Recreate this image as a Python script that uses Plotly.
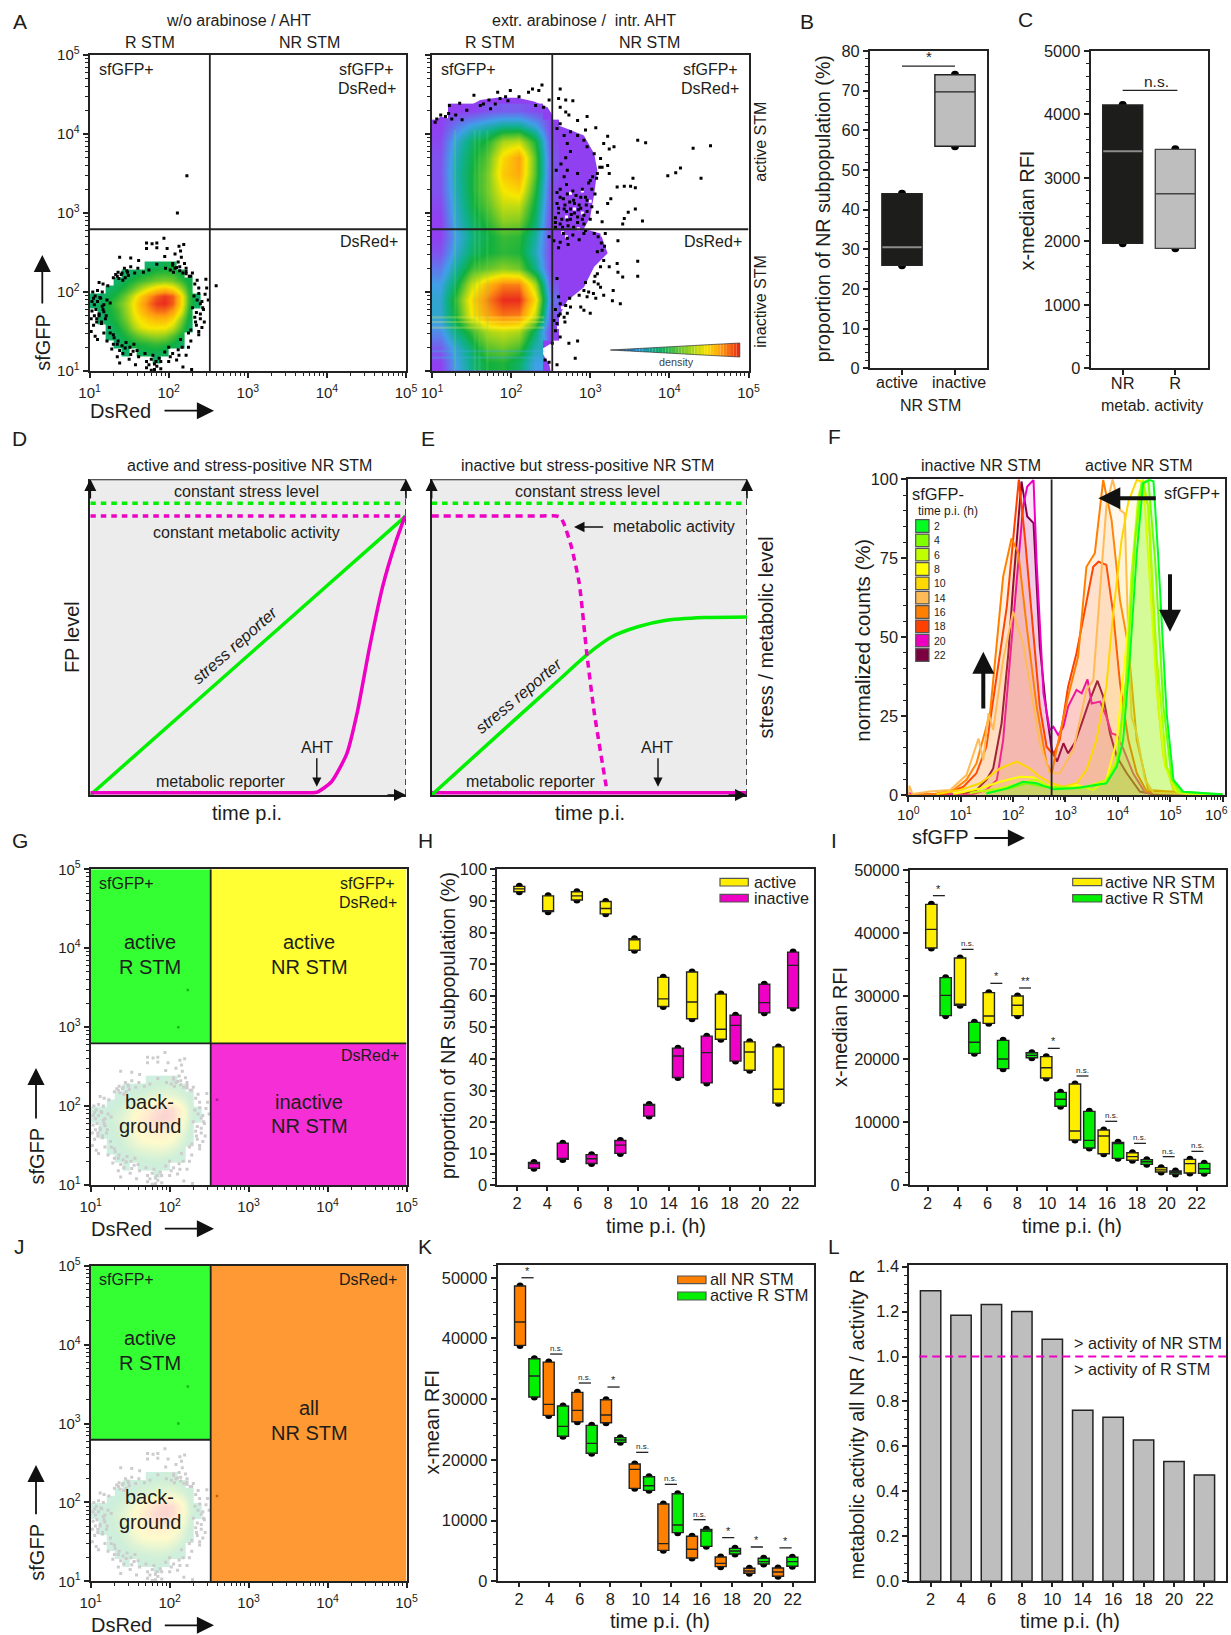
import numpy as np
import plotly.graph_objects as go
from plotly.colors import sample_colorscale

W, H = 1231, 1635
FONT = "Liberation Sans"
INK = "#222222"
TXT = "#1d1d1b"
YEL, MAG, GRN, ORG, GRY = "#ffee00", "#ee00c4", "#00f000", "#ff8000", "#bebebe"

# ---------------- DATA ----------------
TIME_LABELS = ["2", "4", "6", "8", "10", "14", "16", "18", "20", "22"]

# Panel B / C
B_Q1 = [26, 56]; B_MED = [30.5, 69.7]; B_Q3 = [44, 74]
C_Q1 = [1970, 1890]; C_MED = [3420, 2750]; C_Q3 = [4150, 3450]

# Panel H
H_A_Q1 = [92.9, 86.6, 90.3, 85.9, 74.4, 56.6, 52.7, 46.2, 36.4, 26.0]
H_A_MED = [93.8, 86.8, 91.6, 87.6, 77.8, 59.0, 58.0, 49.4, 42.2, 30.4]
H_A_Q3 = [94.6, 91.6, 92.9, 89.8, 78.0, 65.8, 67.5, 60.5, 45.4, 43.8]
H_I_Q1 = [5.4, 8.2, 6.9, 10.1, 21.9, 34.1, 32.4, 39.3, 54.6, 56.1]
H_I_MED = [7.0, 8.4, 8.4, 12.7, 25.4, 40.9, 42.0, 50.6, 57.8, 69.6]
H_I_Q3 = [7.2, 13.3, 9.7, 14.2, 25.6, 43.4, 47.2, 53.8, 63.6, 73.8]

# Panel I
I_Y_Q1 = [37620, 28520, 25660, 26880, 16980, 7140, 4970, 3920, 2060, 1900]
I_Y_MED = [40580, 28700, 26830, 28520, 18620, 8570, 7780, 4500, 2400, 3390]
I_Y_Q3 = [44550, 36030, 30530, 30000, 20370, 16030, 8730, 5130, 2750, 4070]
I_G_Q1 = [26880, 20900, 18470, 20210, 12490, 5870, 4230, 3280, 1750, 1850]
I_G_MED = [30100, 22650, 20000, 20580, 13600, 7090, 6560, 3700, 2010, 2590]
I_G_Q3 = [32910, 25820, 22960, 21000, 14710, 11690, 6770, 4020, 2220, 3440]
I_SIG_Y = [45930, 37400, 32010, 31270, 21690, 17300, 10110, 6610, 4500, 5340]
I_SIG_T = ["*", "n.s.", "*", "**", "*", "n.s.", "n.s.", "n.s.", "n.s.", "n.s."]

# Panel K
K_O_Q1 = [38860, 27330, 26290, 26120, 15310, 5100, 3840, 2410, 1320, 820]
K_O_MED = [42700, 29140, 28160, 27390, 18440, 6200, 5270, 2960, 1700, 1540]
K_O_Q3 = [48630, 36110, 31120, 29910, 19320, 12730, 7410, 4010, 2140, 2200]
K_G_Q1 = [30350, 23880, 21080, 22890, 14980, 8010, 5760, 4500, 2850, 2470]
K_G_MED = [33810, 25520, 22720, 23270, 15750, 9280, 8290, 4990, 3240, 3240]
K_G_Q3 = [36660, 28870, 25690, 23660, 17230, 14430, 8560, 5430, 3790, 3950]
K_SIG_Y = [50000, 37430, 32660, 32000, 21240, 15970, 10150, 7190, 5650, 5490]
K_SIG_T = ["*", "n.s.", "n.s.", "*", "n.s.", "n.s.", "n.s.", "*", "*", "*"]

# Panel L
L_VALUES = [1.293, 1.184, 1.231, 1.200, 1.077, 0.761, 0.730, 0.628, 0.533, 0.473]

# Panel D / E schematic curves
D_MAG_X = [0, 0.35, 0.6, 0.70, 0.719, 0.764, 0.813, 0.845, 0.885, 0.926, 0.966, 0.997]
D_MAG_Y = [0.007, 0.007, 0.007, 0.007, 0.009, 0.042, 0.132, 0.259, 0.470, 0.660, 0.797, 0.884]
E_GRN_X = [0, 0.25, 0.40, 0.492, 0.573, 0.654, 0.735, 0.864, 1]
E_GRN_Y = [0, 0.226, 0.361, 0.444, 0.502, 0.533, 0.552, 0.562, 0.564]
E_MAG_X = [0, 0.2, 0.35, 0.395, 0.408, 0.419, 0.443, 0.468, 0.492, 0.516, 0.557]
E_MAG_Y = [0.884, 0.884, 0.884, 0.884, 0.880, 0.861, 0.787, 0.671, 0.449, 0.259, 0.007]

# Panel F histograms: log10(sfGFP), normalized counts
F_22_X = [0, 1.05, 1.30, 1.49, 1.62, 1.78, 1.91, 2.0, 2.16, 2.27, 2.39, 2.51, 2.64, 2.74, 2.84, 2.96, 3.05, 3.18, 3.31, 3.44, 3.61, 3.72, 3.85, 3.98, 4.17, 4.42, 4.68, 6.0]
F_22_Y = [0, .3, 1.6, 4.8, 8.4, 22.7, 44.9, 66, 99.3, 88.2, 86.1, 47, 25.9, 14.3, 10.6, 16.4, 13.2, 16.6, 22.7, 29, 36.2, 31.2, 19.5, 12.1, 6.9, 1.1, .2, 0]
F_20_X = [0, .1, 1.2, 1.49, 1.69, 1.81, 1.94, 2.07, 2.19, 2.27, 2.39, 2.45, 2.58, 2.70, 2.77, 2.86, 2.96, 3.05, 3.21, 3.31, 3.42, 3.50, 3.66, 3.78, 3.88, 3.98, 4.10, 4.29, 4.52, 6.0]
F_20_Y = [.7, .1, .1, 1.6, 4.8, 17.4, 42.8, 68.1, 91.3, 97.7, 99.8, 73.4, 32.2, 20.6, 21.6, 19, 21.6, 28, 33.3, 32.2, 36.6, 29, 29.6, 24.8, 19.5, 19, 14.8, 6.9, .7, 0]
F_18_X = [0, .7, 1.05, 1.30, 1.49, 1.69, 1.88, 2.0, 2.11, 2.23, 2.39, 2.51, 2.64, 2.77, 2.89, 3.05, 3.21, 3.40, 3.53, 3.63, 3.78, 3.91, 4.04, 4.20, 4.36, 4.55, 6.0]
F_18_Y = [0, .3, 2.6, 6.9, 15.3, 38.5, 59.7, 80.8, 100, 80.8, 49.1, 27.9, 15.3, 12.7, 17.4, 34.3, 44.9, 61.8, 72.3, 73.9, 72.9, 57.6, 35.4, 17.4, 6.9, 1.1, 0]
F_16_X = [0, .5, .86, 1.11, 1.30, 1.56, 1.81, 1.97, 2.10, 2.26, 2.45, 2.64, 2.74, 2.84, 3.05, 3.24, 3.40, 3.56, 3.72, 3.88, 4.04, 4.20, 4.36, 4.58, 6.0]
F_16_Y = [0, .3, 1.6, 4.8, 10, 25.9, 69.2, 81.3, 76.6, 53.3, 28, 10, 6.9, 15.3, 31.2, 43.8, 72.3, 76.6, 99.8, 87.1, 61.8, 47, 17.4, 1.6, 0]
F_14_X = [0, .02, .08, .41, .80, 1.11, 1.34, 1.43, 1.53, 1.62, 1.81, 2.0, 2.19, 2.39, 2.51, 2.70, 2.89, 3.15, 3.40, 3.53, 3.66, 3.78, 3.90, 4.04, 4.13, 4.20, 4.26, 4.36, 4.52, 4.68, 6.0]
F_14_Y = [0, 3, .3, 1.1, 1.6, 6.3, 17.9, 11, 25.9, 20.6, 42.8, 58.1, 48.1, 28, 16.4, 6.9, 6.9, 14.3, 33.3, 36.4, 64.9, 91.3, 100, 90.3, 89.2, 49.1, 24.8, 19.5, 4.8, .7, 0]
F_10_X = [.54, .99, 1.37, 1.75, 2.07, 2.32, 2.51, 2.74, 2.96, 3.21, 3.40, 3.59, 3.78, 3.91, 4.07, 4.20, 4.36, 4.45, 4.58, 4.68, 4.77, 4.87, 5.06, 5.31, 6.0]
F_10_Y = [.3, 1.6, 3.7, 8.4, 10.6, 8.4, 5.8, 3.7, 2.6, 3.7, 7.9, 17.4, 34.3, 57.6, 80.8, 92.9, 99.8, 99.3, 91.3, 59.7, 28, 12.1, 1.6, .5, 0]
F_8_X = [.86, 1.37, 1.75, 2.13, 2.39, 2.64, 2.96, 3.21, 3.53, 3.78, 3.98, 4.17, 4.33, 4.48, 4.58, 4.74, 4.90, 5.12, 5.31, 6.0]
F_8_Y = [.3, 2.1, 4.2, 5.8, 5.6, 3.2, 2.1, 3.2, 1.6, 4.8, 17.4, 49.1, 80.8, 100, 75.5, 33.3, 9, 1.1, .5, 0]
F_6_X = [1.18, 1.75, 2.13, 2.45, 2.77, 3.40, 3.78, 3.98, 4.13, 4.26, 4.39, 4.48, 4.58, 4.74, 4.93, 5.15, 5.95]
F_6_Y = [.7, 2.1, 3.7, 4.8, 2.1, 2.6, 4.8, 11.1, 28, 70.2, 94.5, 99.8, 91.3, 43.8, 9, 1.1, .1]
F_4_X = [1.49, 1.94, 2.26, 2.58, 3.28, 3.78, 3.98, 4.17, 4.33, 4.45, 4.58, 4.71, 4.87, 5.03, 5.22, 6.0]
F_4_Y = [.7, 2.1, 3.7, 2.6, 2.1, 3.7, 10, 38.5, 80.8, 98.7, 99.8, 74.5, 28, 4.8, 1, .1]
F_2_X = [1.49, 1.88, 2.19, 2.45, 2.77, 3.15, 3.78, 3.98, 4.10, 4.23, 4.36, 4.48, 4.61, 4.68, 4.77, 4.93, 5.06, 5.25, 6.0]
F_2_Y = [.5, 2.1, 4.2, 3.7, 1.8, 2.1, 3.7, 9, 17.4, 43.8, 76.6, 98.7, 99.8, 99.3, 75.5, 25.9, 4.8, 1, .2]
F_LABELS = ["2", "4", "6", "8", "10", "14", "16", "18", "20", "22"]
F_COLORS = ["#00ff20", "#80ff00", "#c0ff00", "#ffff00", "#ffd800", "#ffbb55", "#ff8000", "#ff4000", "#ee00c0", "#7b0040"]
F_XS = [F_2_X, F_4_X, F_6_X, F_8_X, F_10_X, F_14_X, F_16_X, F_18_X, F_20_X, F_22_X]
F_YS = [F_2_Y, F_4_Y, F_6_Y, F_8_Y, F_10_Y, F_14_Y, F_16_Y, F_18_Y, F_20_Y, F_22_Y]

# Panel A gates (log10)
GATE_LX, GATE_LY = 2.52, 2.794

# Panel A left: density levels (log10 grid)
A1_X_EDGES = [1.0 + 0.1 * i for i in range(15)]
A1_Y_EDGES = [1.1 + 0.1 * i for i in range(15)]
n = None
A1_Z = [
    [n, n, n, n, n, n, n, n, 3, n, n, n, n, n],
    [n, n, n, n, 3, n, 3.1, 3.2, 3.2, 3.1, n, n, n, n],
    [n, n, n, 3, 3.1, 3.3, 3.4, 3.5, 3.6, 3.5, 3.3, 3, n, n],
    [n, n, 3, 3.1, 3.4, 3.7, 4, 4.2, 4.3, 4.2, 3.8, 3.3, n, n],
    [n, n, 3, 3.3, 3.7, 4.3, 4.8, 5, 5, 5, 4.6, 3.8, 3, n],
    [n, 3, 3.2, 3.5, 4, 4.7, 5.1, 5.4, 5.6, 5.6, 5.2, 4.2, 3.2, n],
    [n, 3, 3.3, 3.6, 4.2, 4.9, 5.5, 6.0, 6.3, 6.3, 5.9, 4.9, 3.4, n],
    [3, 3.1, 3.4, 3.8, 4.3, 5.0, 5.7, 6.3, 6.8, 6.9, 6.5, 5.3, 3.6, 3],
    [3, 3, 3.2, 3.5, 4, 4.7, 5.4, 6.0, 6.5, 6.8, 6.5, 5.3, 3.6, 3],
    [n, n, 3, 3.2, 3.5, 3.9, 4.4, 4.9, 5.3, 5.5, 5.2, 4.4, 3.4, n],
    [n, n, n, 3, 3.2, 3.4, 3.6, 3.8, 4, 4.1, 4, 3.6, 3.2, n],
    [n, n, n, n, 3, 3, 3.2, 3.3, 3.5, 3.5, 3.5, 3.2, n, n],
    [n, n, n, n, n, n, n, 3, 3, 3.2, 3.2, n, n, n],
    [n, n, n, n, n, n, n, n, n, n, n, n, n, n],
]
A1_SPECK_LX = [1.94, 1.72, 1.79, 1.85, 2.19, 2.13, 1.72, 1.85, 1.98, 2.15, 2.08, 1.38, 1.52, 1.95, 2.16, 1.62, 1.85, 2.05, 1.96, 1.44, 1.52, 1.61, 1.75, 2.08, 2.14, 2.22, 1.40, 1.48, 1.57, 1.68, 1.30, 1.35, 2.28, 2.22, 2.36, 2.47, 1.12, 1.17, 1.23, 2.33, 2.38, 2.48, 1.04, 1.10, 1.16, 2.38, 2.46, 1.05, 1.13, 2.50, 2.42, 1.06, 1.16, 2.43, 1.03, 1.18, 1.12, 2.40, 2.33, 2.45, 1.15, 1.05, 1.25, 2.35, 2.42, 1.02, 1.18, 1.30, 2.25, 2.38, 1.10, 1.22, 1.35, 2.15, 2.28, 1.28, 1.42, 1.55, 2.0, 2.12, 2.25, 1.35, 1.50, 1.62, 1.78, 2.02, 2.13, 1.58, 1.72, 1.85, 1.90, 1.82, 2.18, 2.29, 1.38,
               1.33, 1.37, 1.41, 1.45, 1.49, 1.36, 1.42, 1.47, 2.02, 2.06, 2.10, 2.14, 2.18, 2.22, 2.26, 2.30, 2.05, 2.12, 2.20, 1.07, 1.10, 1.14, 1.18, 1.22, 1.26, 1.08, 1.12, 1.17, 1.21, 1.09, 1.15, 1.20, 2.32, 2.36, 2.40, 2.44, 2.30, 2.35, 2.40, 2.34, 2.38, 2.28, 1.26, 1.31, 1.36, 1.41, 1.46, 1.51, 1.56, 1.30, 1.38, 1.45, 1.52, 1.60, 1.70, 1.75, 1.80, 1.84, 1.88, 1.72, 1.78, 1.82, 1.90, 1.95, 2.0, 2.05, 2.10, 2.17, 2.22, 1.03, 1.06, 1.09, 1.02, 1.07]
A1_SPECK_LY = [2.68, 2.62, 2.61, 2.62, 2.60, 2.58, 2.55, 2.56, 2.55, 2.52, 2.48, 2.44, 2.43, 2.45, 2.44, 2.40, 2.35, 2.36, 2.30, 2.30, 2.32, 2.30, 2.28, 2.30, 2.32, 2.30, 2.22, 2.25, 2.24, 2.25, 2.18, 2.20, 2.20, 2.23, 2.15, 2.16, 2.12, 2.10, 2.08, 2.10, 2.05, 2.05, 2.00, 2.02, 2.0, 1.98, 1.97, 1.92, 1.93, 1.90, 1.88, 1.84, 1.82, 1.80, 1.76, 1.75, 1.70, 1.72, 1.68, 1.62, 1.62, 1.58, 1.55, 1.58, 1.55, 1.50, 1.48, 1.46, 1.48, 1.46, 1.40, 1.38, 1.34, 1.40, 1.38, 1.28, 1.22, 1.25, 1.30, 1.27, 1.30, 1.18, 1.15, 1.18, 1.15, 1.18, 1.20, 1.08, 1.12, 1.06, 1.03, 1.02, 1.05, 1.02, 1.10,
               2.22, 2.17, 2.24, 2.18, 2.21, 2.25, 2.15, 2.27, 2.28, 2.25, 2.31, 2.27, 2.24, 2.26, 2.20, 2.24, 2.34, 2.38, 2.36, 1.95, 1.88, 1.92, 1.84, 1.90, 1.86, 1.78, 1.72, 1.78, 1.70, 1.66, 1.60, 1.66, 1.95, 1.90, 1.85, 1.78, 1.80, 1.74, 1.66, 1.62, 1.50, 1.52, 1.48, 1.42, 1.38, 1.32, 1.36, 1.30, 1.34, 1.34, 1.26, 1.29, 1.21, 1.26, 1.22, 1.08, 1.20, 1.12, 1.16, 1.04, 1.01, 1.09, 1.12, 1.24, 1.12, 1.22, 1.14, 1.30, 1.20, 1.88, 1.70, 1.62, 1.66, 1.44]
A1_OUT_LX = [2.11, 2.23, 2.60]
A1_OUT_LY = [3.0, 3.47, 2.08]

# Panel A right: density
A2_X_EDGES = [1.0 + 0.2 * i for i in range(9)]
A2_Y_EDGES = [1.0 + 0.2 * i for i in range(19)]
A2_Z = [
    [1.0, 2.0, 2.8, 3.3, 3.4, 3.0, 2.0, n],
    [1.3, 2.2, 3.0, 3.8, 4.0, 3.7, 2.4, n],
    [1.8, 2.8, 3.6, 4.4, 4.6, 4.4, 3.0, 1],
    [2.2, 3.4, 5.0, 5.9, 6.3, 6.2, 4.6, 1.2],
    [2.2, 3.6, 5.2, 6.2, 6.9, 6.9, 5.2, 1.5],
    [2.0, 3.1, 4.6, 5.6, 6.2, 6.2, 4.4, 1.2],
    [1.6, 2.6, 3.6, 3.9, 4.2, 4.0, 2.8, 1],
    [1.2, 2.2, 3.0, 3.3, 3.5, 3.4, 2.4, 1],
    [1.0, 2.0, 2.8, 3.2, 3.6, 3.5, 2.6, 1],
    [1.0, 2.2, 3.0, 3.5, 4.2, 4.1, 3.0, 1],
    [1.1, 2.3, 3.2, 3.8, 4.6, 4.6, 3.2, 1.1],
    [1.2, 2.4, 3.3, 4.0, 5.0, 5.3, 3.5, 1.1],
    [1.2, 2.5, 3.3, 4.0, 5.4, 5.8, 3.8, 1.2],
    [1.2, 2.4, 3.2, 3.8, 5.2, 5.9, 3.8, 1.2],
    [1.1, 2.2, 3.0, 3.4, 4.4, 4.6, 3.4, 1.1],
    [1.0, 1.6, 2.1, 2.4, 2.7, 2.7, 2.1, 1],
    [n, 1.0, 1.0, 1.2, 1.3, 1.3, 1.1, n],
    [n, n, n, n, n, n, n, n],
]
A2_HBANDS_LY = [1.55, 1.62, 1.68, 1.25, 1.17]
A2_VBANDS_LX = [1.29, 1.54, 1.60, 1.70]
A2_EDGE_LX = [1, 1, 1.11, 1.27, 1.44, 1.61, 1.82, 2.08, 2.29, 2.46, 2.51, 2.54, 2.75, 2.92, 3.05, 3.09, 3.05, 3.0, 2.92, 3.13, 3.22, 3.05, 2.92, 2.71, 2.58, 2.53, 2.51, 2.39, 2.41, 2.48, 2.50, 1]
A2_EDGE_LY = [1, 4.13, 4.22, 4.18, 4.34, 4.43, 4.46, 4.46, 4.41, 4.34, 4.26, 4.13, 4.05, 3.98, 3.75, 3.54, 3.24, 2.95, 2.80, 2.74, 2.49, 2.32, 2.06, 1.89, 1.64, 1.35, 1.35, 1.28, 1.20, 1.09, 1, 1]
A2_SPECK_LX = [1.22, 1.35, 1.44, 1.53, 1.61, 1.65, 1.72, 1.74, 1.80, 1.83, 1.86, 1.93, 1.96, 1.99, 2.10, 2.22, 2.27, 2.35, 2.39, 2.31, 2.41, 2.48, 1.11, 1.17, 1.21, 1.25, 1.30, 1.38, 1.06, 1.04,
               2.62, 2.60, 2.69, 2.78, 2.62, 2.69, 2.73, 2.84, 2.96, 3.07, 2.94, 2.84, 2.75, 2.62, 2.58, 2.67, 2.71, 2.92, 2.96, 3.05, 3.13, 3.17, 3.24, 3.22, 3.30, 3.15, 3.22, 3.09, 3.03, 3.00, 2.84, 2.71, 2.67, 3.34, 3.43, 3.51, 3.57, 3.54, 3.24, 3.60, 3.70, 4.30, 4.52, 4.14, 4.08, 3.98, 4.40, 3.26, 3.22, 3.09, 3.57, 3.48, 3.43, 3.41, 3.66, 3.15, 2.96, 2.88, 2.79, 2.71, 2.62, 2.58, 2.67, 2.75, 2.84, 2.92, 2.71, 2.62, 2.56, 2.79, 2.94,
               2.48, 2.54, 2.62, 2.71, 2.92, 3.05, 3.19, 3.35, 3.15, 3.09, 3.17, 3.13, 3.24, 3.34, 3.60, 3.35, 3.41, 3.60, 3.09, 3.05, 3.13, 2.92, 2.86, 2.96, 3.07, 3.29, 3.28, 3.38, 3.17, 2.69, 2.62, 2.60, 2.75, 2.88, 2.92, 3.00, 2.67, 2.71, 2.58, 2.56, 2.52, 2.62, 2.73, 2.84, 2.81, 2.58, 2.43, 2.48, 2.54, 2.58,
               2.56, 2.60, 2.64, 2.68, 2.72, 2.76, 2.80, 2.84, 2.88, 2.92, 2.96, 3.0, 2.58, 2.62, 2.66, 2.70, 2.74, 2.78, 2.82, 2.86, 2.90, 2.94, 2.98, 2.56, 2.60, 2.65, 2.70, 2.75, 2.80, 2.85, 2.90, 2.95, 3.02, 3.06, 2.57, 2.63, 2.69, 2.75, 3.02, 3.08, 3.12, 3.14, 3.10, 3.18, 2.60, 2.66, 2.72, 2.78, 2.86, 2.94, 2.98, 3.04, 3.10, 3.06, 2.62, 2.68, 2.74, 2.56, 2.60]
A2_SPECK_LY = [4.36, 4.39, 4.30, 4.49, 4.36, 4.38, 4.43, 4.32, 4.38, 4.53, 4.45, 4.47, 4.42, 4.55, 4.47, 4.53, 4.57, 4.55, 4.62, 4.36, 4.34, 4.43, 4.24, 4.22, 4.26, 4.19, 4.24, 4.18, 4.19, 4.15,
               4.57, 4.45, 4.43, 4.42, 4.34, 4.28, 4.24, 4.17, 4.22, 4.08, 4.05, 3.98, 4.03, 4.13, 4.07, 3.98, 3.88, 3.92, 3.84, 3.75, 3.69, 3.88, 3.81, 3.97, 3.84, 3.58, 3.60, 3.50, 3.46, 3.41, 3.50, 3.54, 3.46, 3.33, 3.34, 3.34, 3.32, 3.44, 3.50, 3.92, 3.89, 3.82, 3.85, 3.57, 3.51, 3.47, 3.44, 3.18, 3.12, 3.01, 3.05, 3.01, 2.93, 2.86, 2.90, 2.89, 3.16, 3.20, 3.16, 3.24, 3.20, 3.12, 3.05, 3.05, 2.95, 2.97, 2.91, 2.86, 2.82, 2.82, 2.78,
               2.70, 2.65, 2.63, 2.68, 2.74, 2.74, 2.74, 2.65, 2.53, 2.51, 2.40, 2.32, 2.32, 2.36, 2.39, 2.25, 2.19, 2.20, 2.23, 2.13, 2.06, 2.02, 1.96, 1.94, 1.92, 2.02, 1.89, 1.85, 1.96, 1.83, 1.85, 1.94, 1.81, 1.81, 1.77, 1.73, 1.68, 1.73, 1.60, 1.51, 1.35, 1.43, 1.35, 1.38, 1.16, 1.08, 1.14, 1.11, 1.64, 2.17,
               2.88, 3.0, 2.92, 3.1, 2.84, 2.98, 3.12, 2.88, 3.06, 2.86, 3.02, 2.92, 3.26, 3.3, 3.18, 3.36, 3.14, 3.28, 3.22, 3.1, 3.3, 3.2, 3.38, 2.94, 3.06, 2.82, 3.02, 2.92, 3.0, 3.04, 2.92, 3.1, 3.08, 3.24, 3.54, 3.62, 3.7, 3.78, 3.3, 3.44, 3.58, 2.62, 2.7, 2.58, 2.56, 2.74, 2.6, 2.72, 2.66, 2.12, 2.0, 1.98, 2.1, 2.2, 1.72, 1.62, 1.92, 1.78, 1.7]
A2_HOLE_LX = [2.6, 2.7, 2.8, 2.9, 3.0, 2.75, 2.9, 3.05, 2.65, 2.85, 3.15, 2.6, 2.65, 2.9, 3.0, 2.7]
A2_HOLE_LY = [3.0, 2.95, 3.05, 3.0, 3.15, 3.25, 3.28, 3.1, 2.75, 2.8, 2.72, 1.55, 1.8, 1.85, 2.1, 2.7]

# ---------------- HELPERS ----------------
fig = go.Figure()
ANN, SHAPES, AXES = [], [], {}


def px_x(p):
    return p / W


def px_y(p):
    return 1 - p / H


def label(x, y, s, size=16, angle=0, anchor="center", color=TXT):
    ANN.append(dict(x=px_x(x), y=px_y(y), xref="paper", yref="paper", text=s, showarrow=False,
                    font=dict(size=size, color=color, family=FONT), textangle=angle,
                    xanchor=anchor, yanchor="middle"))


def arrow(x0, y0, x1, y1, width=1.8, size=1.9, head=2):
    ANN.append(dict(x=px_x(x1), y=px_y(y1), xref="paper", yref="paper", ax=x0 - x1, ay=y0 - y1,
                    axref="pixel", ayref="pixel", text="", showarrow=True, arrowhead=head,
                    arrowsize=size, arrowwidth=width, arrowcolor="#111111", standoff=0, startstandoff=0))


BASE = dict(showline=True, linecolor=INK, linewidth=2, mirror=True, ticks="outside", ticklen=5,
            tickwidth=1.5, tickcolor=INK, showgrid=False, zeroline=False,
            tickfont=dict(size=16.4, family=FONT, color=TXT))


def axes(k, x0, x1, ytop, ybot, xa, ya):
    AXES[f"xaxis{k}"] = {**BASE, "domain": [x0 / W, x1 / W], "anchor": f"y{k}", **xa}
    AXES[f"yaxis{k}"] = {**BASE, "domain": [1 - ybot / H, 1 - ytop / H], "anchor": f"x{k}", **ya}


def overlay(k, base):
    src = AXES[f"yaxis{base}"]
    AXES[f"yaxis{k}"] = dict(domain=src["domain"], range=src["range"], type=src.get("type", "linear"),
                             overlaying=f"y{base}", anchor=f"x{base}", visible=False)


def log_minor(a, b):
    return [m * 10 ** e for e in range(a, b) for m in range(2, 10)]


def log_axis(a, b, rng_hi=None, labels=True, size=15, standoff=0, last_blank=False):
    texts = [f"10<sup>{e}</sup>" for e in range(a, b + 1)]
    if last_blank:
        texts[-1] = " "
    return dict(type="log", range=[a, rng_hi if rng_hi is not None else b], tickmode="array",
                tickvals=[10 ** e for e in range(a, b + 1)],
                ticktext=texts if labels else None,
                showticklabels=labels, tickfont=dict(size=size, family=FONT, color=TXT),
                ticklabelstandoff=standoff,
                minor=dict(ticks="outside", ticklen=3, tickwidth=1, tickcolor=INK, tickmode="array",
                           tickvals=log_minor(a, b)))


def lin_axis(hi, dtick, minor):
    return dict(range=[0, hi], tick0=0, dtick=dtick, tickformat="d",
                minor=dict(ticks="outside", ticklen=3, tickwidth=1.2, tickcolor=INK, dtick=minor, tick0=0))


def time_axis(lo, hi):
    return dict(range=[lo, hi], tickmode="array", tickvals=list(range(10)), ticktext=TIME_LABELS,
                ticklen=4, ticklabelstandoff=-2)


CS = [[0, "#9040f0"], [1 / 6, "#40a0e8"], [1.7 / 6, "#10b090"], [2.3 / 6, "#10b040"],
      [3.2 / 6, "#90d020"], [4 / 6, "#f8e800"], [5 / 6, "#ff9a10"], [1, "#e82020"]]


def density(k_x, k_y, xe, ye, z, opacity=1.0):
    fig.add_trace(go.Heatmap(x=[10 ** v for v in xe], y=[10 ** v for v in ye], z=z, zmin=1, zmax=7,
                             colorscale=CS, showscale=False, zsmooth="best", opacity=opacity,
                             hoverongaps=False, xaxis=f"x{k_x}", yaxis=f"y{k_y}"))


def specks(k_x, k_y, lx, ly, color="#000000", size=3):
    fig.add_trace(go.Scatter(x=[10 ** v for v in lx], y=[10 ** v for v in ly], mode="markers",
                             marker=dict(symbol="square", size=size, color=color, line=dict(width=0)),
                             xaxis=f"x{k_x}", yaxis=f"y{k_y}", showlegend=False))


GX, GY = 10 ** GATE_LX, 10 ** GATE_LY


def gates(k, full_y=True, width=1.8):
    SHAPES.append(dict(type="line", xref=f"x{k}", yref=f"y{k}", x0=GX, x1=GX, y0=10, y1=1e5,
                       line=dict(color=INK, width=width), layer="above"))
    SHAPES.append(dict(type="line", xref=f"x{k}", yref=f"y{k}", x0=10, x1=GX if not full_y else 1e5, y0=GY, y1=GY,
                       line=dict(color=INK, width=width), layer="above"))


def rect_data(k, x0, x1, y0, y1, color):
    SHAPES.append(dict(type="rect", xref=f"x{k}", yref=f"y{k}", x0=x0, x1=x1, y0=y0, y1=y1,
                       fillcolor=color, line=dict(width=0), layer="below"))


def swatch(x0, x1, y0, y1, color, line="#555555", lw=1.2):
    SHAPES.append(dict(type="rect", xref="paper", yref="paper", x0=px_x(x0), x1=px_x(x1), y0=px_y(y1), y1=px_y(y0),
                       fillcolor=color, line=dict(color=line, width=lw), layer="above"))


def boxes(k_base, k_over, xs, q1, med, q3, width, fill, line=INK, dot=7, lw=1.4):
    fig.add_trace(go.Scatter(x=list(xs) + list(xs), y=list(q1) + list(q3), mode="markers",
                             marker=dict(size=dot, color="#000000"), xaxis=f"x{k_base}", yaxis=f"y{k_base}",
                             showlegend=False))
    fig.add_trace(go.Box(x=list(xs), q1=q1, median=med, q3=q3, lowerfence=q1, upperfence=q3, width=width,
                         fillcolor=fill, line=dict(color=line, width=lw), whiskerwidth=0, boxpoints=False,
                         xaxis=f"x{k_base}", yaxis=f"y{k_over}", showlegend=False))


def segments(k_x, k_y, xs, ys, half, color=INK, width=1.3):
    px, py = [], []
    for x, y in zip(xs, ys):
        px += [x - half, x + half, None]
        py += [y, y, None]
    fig.add_trace(go.Scatter(x=px, y=py, mode="lines", line=dict(color=color, width=width),
                             xaxis=f"x{k_x}", yaxis=f"y{k_y}", showlegend=False))


def sig_text(k_x, k_y, x, y, s, size=8):
    ANN.append(dict(x=x, y=y, xref=f"x{k_x}", yref=f"y{k_y}", text=s, showarrow=False, yanchor="bottom",
                    xanchor="center", yshift=-1, font=dict(size=size if s == "n.s." else 11, family=FONT, color=TXT)))


# ---------------- PANEL A ----------------
axes(1, 89.6, 406, 55, 371, log_axis(1, 5, standoff=2), log_axis(1, 5))
axes(2, 432, 748.5, 55, 371, log_axis(1, 5, standoff=2), log_axis(1, 5, labels=False))
overlay(20, 2)
density(1, 1, A1_X_EDGES, A1_Y_EDGES, A1_Z)
specks(1, 1, A1_SPECK_LX, A1_SPECK_LY)
specks(1, 1, A1_OUT_LX, A1_OUT_LY)
fig.add_trace(go.Scatter(x=[10 ** v for v in A2_EDGE_LX], y=[10 ** v for v in A2_EDGE_LY], mode="lines",
                         fill="toself", fillcolor="#9040f0", line=dict(width=0), xaxis="x2", yaxis="y2",
                         showlegend=False))
density(2, 20, A2_X_EDGES, A2_Y_EDGES, A2_Z)
for ly in A2_HBANDS_LY:
    fig.add_trace(go.Scatter(x=[10, 10 ** 2.42], y=[10 ** ly, 10 ** ly], mode="lines",
                             line=dict(color="rgba(250,240,90,0.28)" if ly > 1.4 else "rgba(60,170,220,0.38)", width=2.2),
                             xaxis="x2", yaxis="y20", showlegend=False))
for lx in A2_VBANDS_LX:
    fig.add_trace(go.Scatter(x=[10 ** lx, 10 ** lx], y=[10, 10 ** 4.05], mode="lines",
                             line=dict(color="rgba(120,220,90,0.22)", width=2.2),
                             xaxis="x2", yaxis="y20", showlegend=False))
specks(2, 20, A2_HOLE_LX, A2_HOLE_LY, "#ffffff")
specks(2, 20, A2_SPECK_LX, A2_SPECK_LY)
gates(1)
gates(2)
label(20, 21.7, "A", 21)
label(238.8, 20.7, "w/o arabinose / AHT")
label(583.6, 20.7, "extr. arabinose /  intr. AHT")
for cx, s in [(150.2, "R STM"), (309, "NR STM"), (490, "R STM"), (649.3, "NR STM")]:
    label(cx, 42.3, s)
label(97, 69.3, "sfGFP+", anchor="left")
label(395.5, 69.3, "sfGFP+", anchor="right")
label(398, 88.3, "DsRed+", anchor="right")
label(400.5, 241.7, "DsRed+", anchor="right")
label(438.8, 69.3, "sfGFP+", anchor="left")
label(739.8, 69.3, "sfGFP+", anchor="right")
label(741.3, 88.3, "DsRed+", anchor="right")
label(743.8, 241.7, "DsRed+", anchor="right")
label(761, 141.7, "active STM", angle=-90)
label(761, 301.7, "inactive STM", angle=-90)
label(120.9, 410.7, "DsRed", 20)
arrow(163, 410.7, 214, 410.7)
label(42.3, 342.5, "sfGFP", 20, angle=-90)
arrow(42.3, 305, 42.3, 255)
label(676.7, 361.7, "density", 10.8, color="#444444")
WEDGE = sample_colorscale([[0, "#16306e"], [0.2, "#2090d0"], [0.4, "#10b060"], [0.6, "#90d020"],
                           [0.75, "#f8e000"], [0.88, "#ff9010"], [1, "#e83010"]],
                          [i / 39 for i in range(40)])
wx0, wx1, wyc, whalf = 610.4, 739.8, 350, 7
for i, c in enumerate(WEDGE):
    a, b = wx0 + (wx1 - wx0) * i / 40, wx0 + (wx1 - wx0) * (i + 1) / 40
    ha, hb = whalf * i / 40, whalf * (i + 1) / 40
    SHAPES.append(dict(type="path", xref="paper", yref="paper", fillcolor=c, line=dict(width=0), layer="above",
                       path=f"M {px_x(a)} {px_y(wyc - ha)} L {px_x(b)} {px_y(wyc - hb)} "
                            f"L {px_x(b)} {px_y(wyc + hb)} L {px_x(a)} {px_y(wyc + ha)} Z"))
SHAPES.append(dict(type="path", xref="paper", yref="paper", line=dict(color="#333333", width=0.7), layer="above",
                   path=f"M {px_x(wx0)} {px_y(wyc)} L {px_x(wx1)} {px_y(wyc - whalf)} "
                        f"L {px_x(wx1)} {px_y(wyc + whalf)} Z"))

# ---------------- PANEL B / C ----------------
axes(3, 870, 987, 51, 368.3, dict(range=[0.396, 2.604], tickmode="array", tickvals=[1, 2], showticklabels=False),
     lin_axis(80, 10, 2))
overlay(21, 3)
boxes(3, 21, [1], B_Q1[:1], B_MED[:1], B_Q3[:1], 0.76, "#1d1d1b", dot=8)
boxes(3, 21, [2], B_Q1[1:], B_MED[1:], B_Q3[1:], 0.76, GRY, dot=8)
segments(3, 21, [1], B_MED[:1], 0.37, color="#8c8c8c", width=2)
segments(3, 3, [1.5], [76.2], 0.5)
sig_text(3, 3, 1.5, 76.2, "*")
ANN[-1]["font"]["size"] = 15
axes(4, 1090.7, 1207.7, 51, 368.3,
     dict(range=[0.392, 2.616], tickmode="array", tickvals=[1, 2], ticktext=["NR", "R"], ticklabelstandoff=-6),
     lin_axis(5000, 1000, 200))
overlay(22, 4)
boxes(4, 22, [1], C_Q1[:1], C_MED[:1], C_Q3[:1], 0.76, "#1d1d1b", dot=8)
boxes(4, 22, [2], C_Q1[1:], C_MED[1:], C_Q3[1:], 0.76, GRY, line="#444444", dot=8)
segments(4, 22, [1], C_MED[:1], 0.37, color="#8c8c8c", width=2)
segments(4, 4, [1.52], [4380], 0.52)
label(1156.7, 81.7, "n.s.", 15.5)
label(806.7, 21.7, "B", 21)
label(1025.7, 20, "C", 21)
label(823.3, 209, "proportion of NR subpopulation (%)", 19.6, angle=-90)
label(897.3, 382.7, "active")
label(959.3, 382.7, "inactive")
label(930.7, 405.7, "NR STM")
label(1027.3, 210.3, "x-median RFI", 20, angle=-90)
label(1152, 405.7, "metab. activity")

# ---------------- PANEL D / E ----------------
SCHEM = dict(range=[0, 1], showticklabels=False, ticks="", mirror=False, fixedrange=True)
axes(5, 90.3, 406, 479.3, 795, SCHEM, SCHEM)
axes(6, 431.6, 747, 479.3, 795, SCHEM, SCHEM)
for k in (5, 6):
    rect_data(k, 0, 1, 0, 1, "#ececec")
    SHAPES.append(dict(type="line", xref=f"x{k}", yref=f"y{k}", x0=0, x1=1, y0=1, y1=1,
                       line=dict(color=INK, width=2), layer="above"))
    SHAPES.append(dict(type="line", xref=f"x{k}", yref=f"y{k}", x0=1, x1=1, y0=0, y1=1,
                       line=dict(color=INK, width=1.6, dash="6px,4px"), layer="above"))


def curve(k, xs, ys, color, width=3.5, dash=None, shape="linear"):
    fig.add_trace(go.Scatter(x=xs, y=ys, mode="lines",
                             line=dict(color=color, width=width, dash=dash, shape=shape, smoothing=0.6),
                             xaxis=f"x{k}", yaxis=f"y{k}", showlegend=False, cliponaxis=False))


curve(5, [0, 1], [0.924, 0.924], "#00f000", 3.5, "5.5px,5px")
curve(5, [0, 1], [0.884, 0.884], "#ee00c4", 3.5, "5.5px,5px")
curve(5, [0, 1], [0, 0.884], "#00f000", 3.5)
curve(5, D_MAG_X, D_MAG_Y, "#ee00c4", 3.5, shape="spline")
curve(6, [0, 1], [0.924, 0.924], "#00f000", 3.5, "5.5px,5px")
curve(6, [0, 1], [0.007, 0.007], "#ee00c4", 3.5)
curve(6, E_GRN_X, E_GRN_Y, "#00f000", 3.5, shape="spline")
curve(6, E_MAG_X, E_MAG_Y, "#ee00c4", 3.5, "7px,5px", shape="spline")
label(20, 438, "D", 21)
label(427.5, 438, "E", 21)
label(249, 465.7, "active and stress-positive NR STM")
label(587.8, 465.7, "inactive but stress-positive NR STM")
label(246.4, 491.7, "constant stress level")
label(587, 491.7, "constant stress level")
label(246.4, 532.7, "constant metabolic activity")
label(611, 526, "metabolic activity", anchor="left")
arrow(604.6, 527, 574, 527, 1.5, 1.4)
label(234.7, 645, "<i>stress reporter</i>", 16.5, angle=-41.5)
label(519.4, 695, "<i>stress reporter</i>", 16.5, angle=-40)
label(221.4, 781.7, "metabolic reporter")
label(530.6, 781.7, "metabolic reporter")
label(316.8, 747.3, "AHT")
label(657, 747.3, "AHT")
arrow(316.8, 756.7, 316.8, 786.7, 1.4, 1.3)
arrow(658, 756.7, 658, 786.7, 1.4, 1.3)
label(247.4, 812.7, "time p.i.", 20)
label(590, 812.7, "time p.i.", 20)
label(71.4, 636.7, "FP level", 20, angle=-90)
label(765, 637.5, "stress / metabolic level", 20, angle=-90)
for ax_l, ax_r in [(90.3, 406), (431.6, 747)]:
    arrow(ax_l, 500, ax_l, 479, 1.6, 1.5)
    arrow(ax_r, 500, ax_r, 479, 1.6, 1.5)
    arrow(ax_r - 20, 795, ax_r, 795, 1.6, 1.5)

# ---------------- PANEL F ----------------
fx_axis = log_axis(0, 6, rng_hi=6.05, last_blank=True)
axes(7, 908.3, 1225.3, 479.3, 795, fx_axis, lin_axis(100, 25, 5))
for xs, ys, c in zip(reversed(F_XS), reversed(F_YS), reversed(F_COLORS)):
    r, g, b = int(c[1:3], 16), int(c[3:5], 16), int(c[5:7], 16)
    fig.add_trace(go.Scatter(x=[10 ** v for v in xs], y=ys, mode="lines", fill="tozeroy",
                             fillcolor=f"rgba({r},{g},{b},0.1)", line=dict(color=c, width=2),
                             xaxis="x7", yaxis="y7", showlegend=False))
SHAPES.append(dict(type="line", xref="x7", yref="y7", x0=10 ** 2.735, x1=10 ** 2.735, y0=0, y1=100,
                   line=dict(color=INK, width=1.8), layer="above"))
label(834, 437, "F", 21)
label(981, 465, "inactive NR STM")
label(1139, 465, "active NR STM")
label(909.5, 493.5, "sfGFP-", 16.4, anchor="left")
label(1162, 492.5, "sfGFP+", 16.4, anchor="left")
label(916, 511, "time p.i. (h)", 12, anchor="left")
for i, (lb, c) in enumerate(zip(F_LABELS, F_COLORS)):
    yc = 440 + (258 + 43 * i) / 3
    swatch(915.7, 929, yc - 6.3, yc + 6.3, c)
    label(932, yc, lb, 10.5, anchor="left")
label(862.7, 640, "normalized counts (%)", 20.4, angle=-90)
label(940, 837, "sfGFP", 20)
label(1216, 813.5, "10<sup>6</sup>", 15)
arrow(973, 838, 1025, 838)
arrow(1157.3, 498.3, 1098.3, 498.3, 4, 1.1)
arrow(1170, 572.7, 1170, 631.7, 4, 1.1)
arrow(983.3, 710, 983.3, 651.7, 4, 1.1)

# ---------------- PANEL G / J ----------------
axes(8, 90.7, 406.5, 869.3, 1185, log_axis(1, 5, standoff=2), log_axis(1, 5))
axes(9, 90.7, 406.5, 1265.7, 1581.3, log_axis(1, 5, standoff=2), log_axis(1, 5))
rect_data(8, 10, GX, GY, 1e5, "#33ff33")
rect_data(8, GX, 1e5, GY, 1e5, "#ffff33")
rect_data(8, GX, 1e5, 10, GY, "#f52fd5")
rect_data(9, 10, GX, GY, 1e5, "#33ff33")
rect_data(9, GX, 1e5, 10, 1e5, "#ff9933")
for k in (8, 9):
    density(k, k, A1_X_EDGES, A1_Y_EDGES, A1_Z, 0.2)
    specks(k, k, A1_SPECK_LX, A1_SPECK_LY, "#cccccc", 3)
    specks(k, k, A1_OUT_LX[:2], A1_OUT_LY[:2], "#18b818", 2.5)
specks(8, 8, A1_OUT_LX[2:], A1_OUT_LY[2:], "#b01898", 2.5)
specks(9, 9, A1_OUT_LX[2:], A1_OUT_LY[2:], "#c86010", 2.5)
gates(8)
SHAPES.append(dict(type="line", xref="x9", yref="y9", x0=GX, x1=GX, y0=10, y1=1e5, line=dict(color=INK, width=1.8), layer="above"))
SHAPES.append(dict(type="line", xref="x9", yref="y9", x0=10, x1=GX, y0=GY, y1=GY, line=dict(color=INK, width=1.8), layer="above"))
label(20, 840, "G", 21)
label(20, 1246, "J", 21)
label(97.3, 883.3, "sfGFP+", anchor="left")
label(396.7, 883.3, "sfGFP+", anchor="right")
label(398.7, 902.3, "DsRed+", anchor="right")
label(401, 1055.7, "DsRed+", anchor="right")
label(149.7, 942.3, "active", 20)
label(149.7, 966.7, "R STM", 20)
label(309.3, 942.3, "active", 20)
label(309.3, 966.7, "NR STM", 20)
label(149.7, 1101.7, "back-", 20)
label(149.7, 1126, "ground", 20)
label(309.3, 1101.7, "inactive", 20)
label(309.3, 1126, "NR STM", 20)
label(97.3, 1279.3, "sfGFP+", anchor="left")
label(398.7, 1279.3, "DsRed+", anchor="right")
label(149.7, 1338.3, "active", 20)
label(149.7, 1362.7, "R STM", 20)
label(309.3, 1408.3, "all", 20)
label(309.3, 1432.7, "NR STM", 20)
label(149.7, 1496.7, "back-", 20)
label(149.7, 1521.7, "ground", 20)
label(121.7, 1229, "DsRed", 20)
arrow(163.3, 1228.7, 214, 1228.7)
label(36.7, 1155.8, "sfGFP", 20, angle=-90)
arrow(36, 1120, 36, 1068)
label(121.7, 1625, "DsRed", 20)
arrow(163.3, 1625.3, 214, 1625.3)
label(36.7, 1552, "sfGFP", 20, angle=-90)
arrow(36, 1515.7, 36, 1465)

# ---------------- PANEL H ----------------
idx = np.arange(10)
axes(10, 497.3, 814.3, 869.3, 1185.3, time_axis(-0.648, 9.79), lin_axis(100, 10, 2))
overlay(23, 10)
boxes(10, 23, 0.077 + idx * 0.948, H_A_Q1, H_A_MED, H_A_Q3, 0.36, YEL)
boxes(10, 23, 0.56 + idx * 0.948, H_I_Q1, H_I_MED, H_I_Q3, 0.36, MAG)
label(425, 840, "H", 21)
label(448.3, 1025.8, "proportion of NR subpopulation (%)", 19.6, angle=-90)
label(656, 1225.7, "time p.i. (h)", 20)
swatch(720, 748.3, 878.3, 886, YEL)
swatch(720, 748.3, 894.3, 902, MAG)
label(751.5, 881.7, "active", 16.2, anchor="left")
label(751.5, 897.7, "inactive", 16.2, anchor="left")

# ---------------- PANEL I ----------------
axes(11, 910, 1226, 870, 1185, time_axis(-0.591, 9.98), lin_axis(50000, 10000, 2000))
overlay(24, 11)
boxes(11, 24, 0.123 + idx * 0.961, I_Y_Q1, I_Y_MED, I_Y_Q3, 0.379, YEL)
boxes(11, 24, 0.602 + idx * 0.961, I_G_Q1, I_G_MED, I_G_Q3, 0.379, GRN)
i_sig_x = 0.375 + idx * 0.961
segments(11, 24, i_sig_x, I_SIG_Y, 0.2)
for x, y, s in zip(i_sig_x, I_SIG_Y, I_SIG_T):
    sig_text(11, 24, float(x), y, s)
label(834, 840, "I", 21)
label(840, 1027, "x-median RFI", 20, angle=-90)
label(1072.3, 1225.7, "time p.i. (h)", 20)
swatch(1072.7, 1101.7, 878.3, 885.7, YEL)
swatch(1072.7, 1101.7, 894.7, 902, GRN)
label(1103, 881.7, "active NR STM", 16.4, anchor="left")
label(1103, 897.7, "active R STM", 16.4, anchor="left")

# ---------------- PANEL K ----------------
axes(12, 497.7, 814.3, 1265, 1581.3, time_axis(-0.702, 9.713),
     dict(range=[0, 52100], tick0=0, dtick=10000, tickformat="d",
          minor=dict(ticks="outside", ticklen=3, tickwidth=1.2, tickcolor=INK, dtick=2000, tick0=0)))
overlay(25, 12)
boxes(12, 25, 0.033 + idx * 0.943, K_O_Q1, K_O_MED, K_O_Q3, 0.362, ORG)
boxes(12, 25, 0.504 + idx * 0.943, K_G_Q1, K_G_MED, K_G_Q3, 0.362, GRN)
k_sig_x = 0.28 + idx * 0.943
segments(12, 25, k_sig_x, K_SIG_Y, 0.2)
for x, y, s in zip(k_sig_x, K_SIG_Y, K_SIG_T):
    sig_text(12, 25, float(x), y, s)
label(425, 1246, "K", 21)
label(431.7, 1422.8, "x-mean RFI", 20, angle=-90)
label(660, 1621, "time p.i. (h)", 20)
swatch(677.7, 706, 1276, 1283.7, ORG)
swatch(677.7, 706, 1292, 1300, GRN)
label(708, 1279.3, "all NR STM", 16.4, anchor="left")
label(708, 1295.3, "active R STM", 16.4, anchor="left")

# ---------------- PANEL L ----------------
axes(13, 909.3, 1226, 1265, 1581.3, time_axis(-0.70, 9.71),
     dict(range=[0, 1.407], tick0=0, dtick=0.2, tickformat=".1f",
          minor=dict(ticks="outside", ticklen=3, tickwidth=1.2, tickcolor=INK, dtick=0.04, tick0=0)))
fig.add_trace(go.Bar(x=list(idx), y=L_VALUES, width=0.67, marker=dict(color=GRY, line=dict(color=INK, width=1.5)),
                     xaxis="x13", yaxis="y13", showlegend=False))
fig.add_trace(go.Scatter(x=[-0.373, 9.71], y=[1, 1], mode="lines", line=dict(color="#ee00c4", width=2, dash="8px,5px"),
                         xaxis="x13", yaxis="y13", showlegend=False))
label(834, 1246, "L", 21)
label(856, 1424.5, "metabolic activity all NR / activity R", 20, angle=-90)
label(1070, 1621, "time p.i. (h)", 20)
label(1072, 1343, "&gt; activity of NR STM", 16.2, anchor="left")
label(1072, 1369, "&gt; activity of R STM", 16.2, anchor="left")

fig.update_layout(width=W, height=H, margin=dict(l=0, r=0, t=0, b=0, pad=0, autoexpand=False), autosize=False,
                  paper_bgcolor="white", plot_bgcolor="white", showlegend=False, hovermode=False,
                  font=dict(family=FONT, color=TXT), annotations=ANN, shapes=SHAPES, **AXES)
fig.write_html("out.html", post_script="document.body.style.margin='0';", config={"displayModeBar": False})
